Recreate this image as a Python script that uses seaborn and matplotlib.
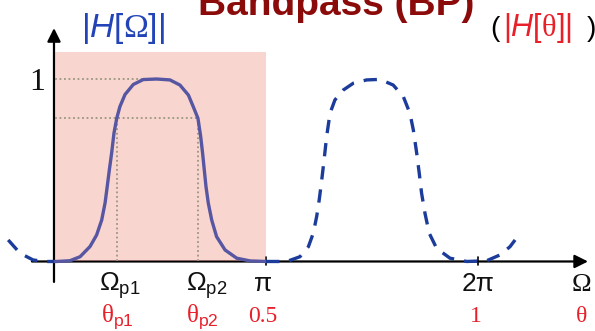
import pandas as pd
import seaborn as sb
import matplotlib.pyplot as plt
from matplotlib.patches import Rectangle

# frequency in units of pi, magnitude |H|
pass_omega = [0.000, 0.013, 0.075, 0.123, 0.170, 0.201, 0.225, 0.241, 0.251, 0.261,
              0.272, 0.283, 0.296, 0.311, 0.335, 0.374, 0.421, 0.484, 0.547, 0.594,
              0.634, 0.657, 0.679, 0.692, 0.701, 0.709, 0.717, 0.728, 0.744, 0.767,
              0.807, 0.862, 0.925, 1.000]
pass_mag = [0.000, 0.000, 0.004, 0.026, 0.082, 0.145, 0.227, 0.321, 0.410, 0.501,
            0.595, 0.704, 0.785, 0.849, 0.915, 0.970, 0.997, 1.000, 0.995, 0.967,
            0.912, 0.848, 0.785, 0.684, 0.593, 0.501, 0.410, 0.319, 0.227, 0.136,
            0.063, 0.018, 0.003, 0.000]

left_omega = [-0.216, -0.160, -0.098, -0.040, 0.000]
left_mag = [0.118, 0.045, 0.008, 0.000, 0.000]

right_omega = [1.000, 1.098, 1.160, 1.200, 1.223, 1.239, 1.251, 1.263, 1.274, 1.286,
               1.302, 1.325, 1.365, 1.412, 1.475, 1.538, 1.600, 1.648, 1.679, 1.695,
               1.711, 1.723, 1.734, 1.750, 1.770, 1.805, 1.868, 1.947, 2.041, 2.104,
               2.151, 2.175]
right_mag = [0.000, 0.000, 0.026, 0.081, 0.155, 0.246, 0.337, 0.447, 0.556, 0.684,
             0.812, 0.885, 0.940, 0.977, 0.995, 0.998, 0.967, 0.903, 0.812, 0.721,
             0.593, 0.483, 0.374, 0.264, 0.155, 0.072, 0.018, 0.000, 0.004, 0.036,
             0.081, 0.118]

edge_omega = [0.296, 0.679]   # Omega_p1, Omega_p2
edge_mag = 0.785
peak_end = 0.48

omega_labels = [r'$\Omega_{\mathrm{p1}}$', r'$\Omega_{\mathrm{p2}}$', 'π', '2π', 'Ω']
omega_pos = [0.31, 0.72, 0.985, 2.0, 2.486]
theta_labels = [r'$\mathsf{θ}_{\mathrm{p1}}$', r'$\mathsf{θ}_{\mathrm{p2}}$', '0.5', '1', 'θ']
theta_pos = [0.297, 0.698, 0.986, 1.99, 2.49]

sb.set_theme(style='white')
plt.rcParams['font.family'] = ['Liberation Sans', 'DejaVu Sans']
plt.rcParams['mathtext.fontset'] = 'custom'
plt.rcParams['mathtext.rm'] = 'Liberation Sans'
plt.rcParams['mathtext.it'] = 'Liberation Sans:italic'
plt.rcParams['mathtext.sf'] = 'Liberation Serif'

fig = plt.figure(figsize=(5.95, 3.31), dpi=100)
ax = fig.add_axes([0, 0, 1, 1])
ax.set_xlim(-0.2547, 2.552)
ax.set_ylim(-0.381, 1.433)
ax.axis('off')

# axes with arrows
ax.annotate('', xy=(2.519, 0), xytext=(-0.104, 0),
            arrowprops=dict(arrowstyle='-|>', mutation_scale=20, lw=1.6, color='black', shrinkA=0, shrinkB=0))
ax.annotate('', xy=(0, 1.279), xytext=(0, -0.112),
            arrowprops=dict(arrowstyle='-|>', mutation_scale=20, lw=1.6, color='black', shrinkA=0, shrinkB=0))
for t in [1.0, 2.0]:
    ax.plot([t, t], [-0.02, 0.025], color='black', lw=1.2)

# passband shading
ax.add_patch(Rectangle((0.005, 0), 0.995, 1.148, facecolor='#eb765f', alpha=0.3, lw=0, zorder=3))

# dotted guides
dot = dict(color='#9a9680', lw=1.3, ls=(0, (1, 1.5)), zorder=4)
ax.plot([0.005, peak_end], [1.0, 1.0], **dot)
ax.plot([0.005, edge_omega[1]], [edge_mag, edge_mag], **dot)
for e in edge_omega:
    ax.plot([e, e], [0, edge_mag], **dot)

df_pass = pd.DataFrame({'omega': pass_omega, 'mag': pass_mag})
df_left = pd.DataFrame({'omega': left_omega, 'mag': left_mag})
df_right = pd.DataFrame({'omega': right_omega, 'mag': right_mag})

sb.lineplot(data=df_pass, x='omega', y='mag', sort=False, ax=ax, color='#5656a2', lw=2.4, zorder=5)
sb.lineplot(data=df_left, x='omega', y='mag', sort=False, ax=ax, color='#1c3c9c', lw=2.4,
            linestyle=(0, (4, 3)), zorder=5)
sb.lineplot(data=df_right, x='omega', y='mag', sort=False, ax=ax, color='#1c3c9c', lw=2.4,
            linestyle=(0, (4, 3)), zorder=5)
ax.set_xlim(-0.2547, 2.552)
ax.set_ylim(-0.381, 1.433)

# tick labels
for lab, p in zip(omega_labels, omega_pos):
    fam = 'Liberation Serif' if lab == 'Ω' else 'Liberation Sans'
    ax.text(p, -0.162, lab, ha='center', va='baseline', fontsize=19, color='#111111', family=fam)
for lab, p in zip(theta_labels, theta_pos):
    if lab.startswith('$'):
        ax.text(p, -0.33, lab, ha='center', va='baseline', fontsize=18, color='#e8202a')
    else:
        ax.text(p, -0.33, lab, ha='center', va='baseline', fontsize=17, color='#e8202a',
                family='Liberation Serif')

ax.text(-0.08, 0.94, '1', ha='center', va='baseline', fontsize=23, family='Liberation Serif', color='#111111')
ax.text(0.325, 1.23, r'$|H[\mathsf{\Omega}]|$', ha='center', va='baseline', fontsize=24, color='#2244b8')
ax.text(0.679, 1.351, 'Bandpass (BP)', ha='left', va='baseline', fontsize=28, fontweight='bold', color='#8b0a0a')
ax.text(2.056, 1.236, '(', ha='left', va='baseline', fontsize=20, color='black')
ax.text(2.118, 1.236, r'$|H[\mathsf{θ}]|$', ha='left', va='baseline', fontsize=22, color='#e8202a')
ax.text(2.515, 1.236, ')', ha='left', va='baseline', fontsize=20, color='black')

fig.savefig('out.png', dpi=100)
